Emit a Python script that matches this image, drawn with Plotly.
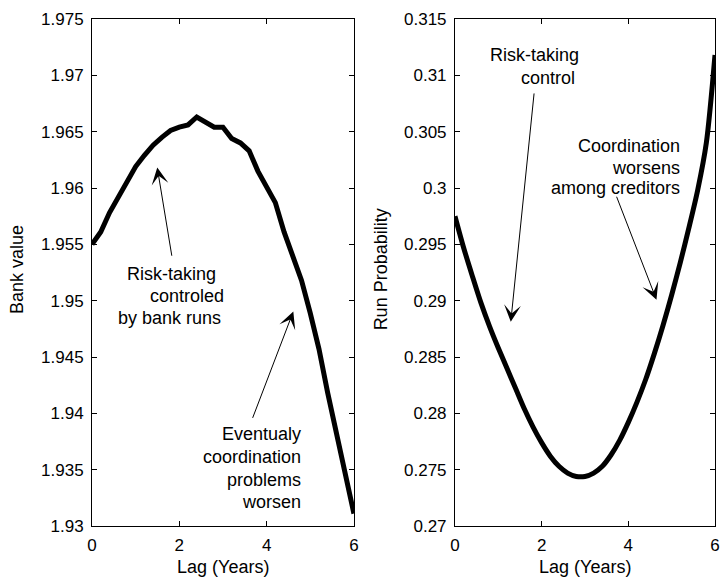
import plotly.graph_objects as go

# ---------------- data ----------------
lag = [0.0, 0.2, 0.4, 0.6, 0.8, 1.0, 1.2, 1.4, 1.6, 1.8, 2.0, 2.2, 2.4, 2.6, 2.8, 3.0,
       3.2, 3.4, 3.6, 3.8, 4.0, 4.2, 4.4, 4.6, 4.8, 5.0, 5.2, 5.4, 5.6, 5.8, 6.0]

bank_value = [1.9550, 1.9561, 1.9578, 1.9592, 1.9606, 1.9619, 1.9629, 1.9638, 1.9645,
              1.9651, 1.9654, 1.9656, 1.9663, 1.9659, 1.9654, 1.9654, 1.9644, 1.9640,
              1.9633, 1.9615, 1.9601, 1.9587, 1.9561, 1.9541, 1.9518, 1.9489, 1.9457,
              1.9418, 1.9382, 1.9343, 1.9311]

run_probability = [0.2975, 0.2947, 0.2922, 0.2898, 0.2877, 0.2858, 0.2840, 0.2822, 0.2804,
                   0.2788, 0.2774, 0.2762, 0.2753, 0.2747, 0.2744, 0.2744, 0.2747, 0.2753,
                   0.2763, 0.2776, 0.2792, 0.2810, 0.2830, 0.2853, 0.2878, 0.2905, 0.2934,
                   0.2965, 0.2998, 0.3040, 0.3118]

x_ticks = [0, 2, 4, 6]
bank_ticks = [1.93, 1.935, 1.94, 1.945, 1.95, 1.955, 1.96, 1.965, 1.97, 1.975]
bank_tick_labels = ["1.93", "1.935", "1.94", "1.945", "1.95", "1.955", "1.96", "1.965", "1.97", "1.975"]
prob_ticks = [0.27, 0.275, 0.28, 0.285, 0.29, 0.295, 0.3, 0.305, 0.31, 0.315]
prob_tick_labels = ["0.27", "0.275", "0.28", "0.285", "0.29", "0.295", "0.3", "0.305", "0.31", "0.315"]

x_title = "Lag (Years)"
left_y_title = "Bank value"
right_y_title = "Run Probability"

left_note_1 = ["Risk-taking", "controled", "by bank runs"]
left_note_2 = ["Eventualy", "coordination", "problems", "worsen"]
right_note_1 = ["Risk-taking", "control"]
right_note_2 = ["Coordination", "worsens", "among creditors"]

# ---------------- figure ----------------
FONT = "Liberation Sans, Arial, sans-serif"
TICK_SIZE = 17
TEXT_SIZE = 18

fig = go.Figure()
fig.add_trace(go.Scatter(x=lag, y=bank_value, mode="lines",
                         line=dict(color="black", width=5),
                         xaxis="x", yaxis="y", showlegend=False, hoverinfo="skip"))
fig.add_trace(go.Scatter(x=lag, y=run_probability, mode="lines",
                         line=dict(color="black", width=5, shape="spline", smoothing=0.8),
                         xaxis="x2", yaxis="y2", showlegend=False, hoverinfo="skip"))

axis_common = dict(showline=True, linecolor="black", linewidth=1, mirror="ticks",
                   ticks="inside", ticklen=5, tickcolor="black", tickwidth=1,
                   showgrid=False, zeroline=False,
                   tickfont=dict(family=FONT, size=TICK_SIZE, color="black"))

fig.update_layout(
    width=722, height=577,
    margin=dict(l=92, r=2, t=19, b=51, pad=0),
    paper_bgcolor="white", plot_bgcolor="white",
    showlegend=False,
    xaxis=dict(domain=[0, 0.4204], range=[0, 6], tickvals=x_ticks, anchor="y",
               ticklabelstandoff=4, **axis_common),
    yaxis=dict(domain=[0, 1], range=[1.93, 1.975], tickvals=bank_ticks,
               ticktext=bank_tick_labels, anchor="x", ticklabelstandoff=4, **axis_common),
    xaxis2=dict(domain=[0.5826, 1], range=[0, 6], tickvals=x_ticks, anchor="y2",
                ticklabelstandoff=4, **axis_common),
    yaxis2=dict(domain=[0, 1], range=[0.27, 0.315], tickvals=prob_ticks,
                ticktext=prob_tick_labels, anchor="x2", ticklabelstandoff=4, **axis_common),
)

annotations = []


def text_line(txt, x, y, xref, yref, xanchor="center"):
    annotations.append(dict(text=txt, x=x, y=y, xref=xref, yref=yref,
                            xanchor=xanchor, yanchor="middle", showarrow=False,
                            font=dict(family=FONT, size=TEXT_SIZE, color="black")))


def arrow(x_tip, y_tip, x_tail, y_tail, xref, yref):
    annotations.append(dict(text=" ", x=x_tip, y=y_tip, ax=x_tail, ay=y_tail,
                            xref=xref, yref=yref, axref=xref, ayref=yref,
                            showarrow=True, arrowhead=3, arrowsize=2.8, arrowwidth=1,
                            arrowcolor="black", standoff=0, startstandoff=0,
                            font=dict(size=1)))


# left panel notes
for txt, x, y in zip(left_note_1, [1.813, 2.178, 1.768], [1.95239, 1.95043, 1.94848]):
    text_line(txt, x, y, "x", "y")
for txt, y in zip(left_note_2, [1.93818, 1.93614, 1.93410, 1.93214]):
    text_line(txt, 4.840, y, "x", "y", xanchor="right")
arrow(1.495, 1.96181, 1.836, 1.95381, "x", "y")
arrow(4.612, 1.94904, 3.663, 1.93942, "x", "y")

# right panel notes
for txt, x, y in zip(right_note_1, [1.825, 2.150], [0.31183, 0.30979]):
    text_line(txt, x, y, "x2", "y2")
for txt, y in zip(right_note_2, [0.30375, 0.30180, 0.30002]):
    text_line(txt, 5.245, y, "x2", "y2", xanchor="right")
arrow(1.288, 0.28812, 1.830, 0.30857, "x2", "y2")
arrow(4.650, 0.29008, 3.712, 0.29940, "x2", "y2")

# axis titles
title_font = dict(family=FONT, size=TEXT_SIZE, color="black")
annotations.append(dict(text=left_y_title, x=-0.120, y=0.5052, xref="paper", yref="paper",
                        textangle=-90, showarrow=False, xanchor="center", yanchor="middle",
                        font=title_font))
annotations.append(dict(text=right_y_title, x=0.4631, y=0.5052, xref="paper", yref="paper",
                        textangle=-90, showarrow=False, xanchor="center", yanchor="middle",
                        font=title_font))
annotations.append(dict(text=x_title, x=0.2098, y=-0.0809, xref="paper", yref="paper",
                        showarrow=False, xanchor="center", yanchor="middle", font=title_font))
annotations.append(dict(text=x_title, x=0.7913, y=-0.0809, xref="paper", yref="paper",
                        showarrow=False, xanchor="center", yanchor="middle", font=title_font))

fig.update_layout(annotations=annotations)

fig.write_html("out.html")
